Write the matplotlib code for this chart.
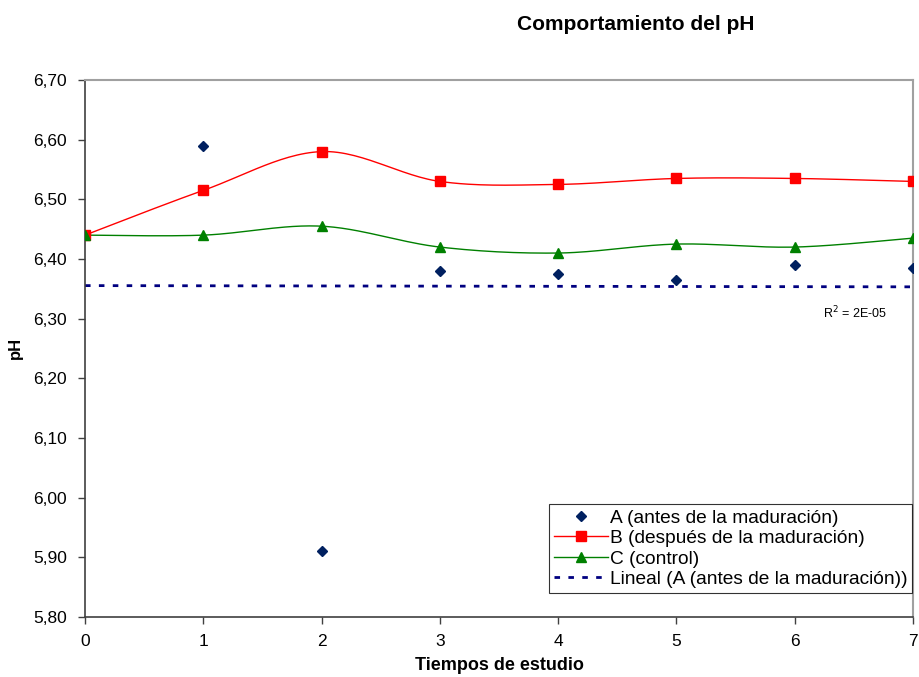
import numpy as np
import matplotlib.pyplot as plt

plt.rcParams['font.family'] = ['Liberation Sans', 'DejaVu Sans']

tiempos = [0, 1, 2, 3, 4, 5, 6, 7]
ph_a = [6.44, 6.59, 5.91, 6.38, 6.375, 6.365, 6.39, 6.385]
ph_b = [6.44, 6.515, 6.58, 6.53, 6.525, 6.535, 6.535, 6.53]
ph_c = [6.44, 6.44, 6.455, 6.42, 6.41, 6.425, 6.42, 6.435]
yticks = [5.8, 5.9, 6.0, 6.1, 6.2, 6.3, 6.4, 6.5, 6.6, 6.7]


def smooth(x, y, n=30):
    # cubic bezier through the points, excel-style smoothing
    x = np.asarray(x, float)
    y = np.asarray(y, float)
    px = np.concatenate([[x[0]], x, [x[-1]]])
    py = np.concatenate([[y[0]], y, [y[-1]]])
    xs, ys = [], []
    t = np.linspace(0, 1, n)
    for i in range(len(x) - 1):
        p0 = np.array([px[i + 1], py[i + 1]])
        p3 = np.array([px[i + 2], py[i + 2]])
        c1 = p0 + (np.array([px[i + 2], py[i + 2]]) - np.array([px[i], py[i]])) / 6
        c2 = p3 - (np.array([px[i + 3], py[i + 3]]) - np.array([px[i + 1], py[i + 1]])) / 6
        b = ((1 - t) ** 3)[:, None] * p0 + (3 * (1 - t) ** 2 * t)[:, None] * c1 \
            + (3 * (1 - t) * t ** 2)[:, None] * c2 + (t ** 3)[:, None] * p3
        xs.extend(b[:, 0])
        ys.extend(b[:, 1])
    return np.array(xs), np.array(ys)


fig = plt.figure(figsize=(9.2, 6.77), dpi=100)
ax = fig.add_axes([85 / 920, 60 / 677, 828 / 920, 537 / 677])

navy = '#000080'

bx, by = smooth(tiempos, ph_b)
cx, cy = smooth(tiempos, ph_c)
ax.plot(bx, by, color='#FF0000', lw=1.0, zorder=2)
ax.plot(cx, cy, color='#008000', lw=1.0, zorder=2)

# regresión lineal de la serie A
coef = np.polyfit(tiempos, ph_a, 1)
fit = np.polyval(coef, tiempos)
ax.plot(tiempos, fit, color=navy, lw=2, ls=(0, (2, 3)), zorder=1)

ax.plot(tiempos, ph_a, ls='none', marker='D', ms=5.5, color='#002060', zorder=3)
ax.plot(tiempos, ph_b, ls='none', marker='s', ms=7, color='#FF0000', zorder=3)
ax.plot(tiempos, ph_c, ls='none', marker='^', ms=7, color='#008000', zorder=4)

# legend proxies
hA, = ax.plot([], [], ls='none', marker='D', ms=5, color='#002060')
hB, = ax.plot([], [], color='#FF0000', lw=1.0, marker='s', ms=7)
hC, = ax.plot([], [], color='#008000', lw=1.0, marker='^', ms=7)
hL, = ax.plot([], [], color=navy, lw=2, ls=(0, (2, 3)))
leg = ax.legend([hA, hB, hC, hL],
                ['A (antes de la maduración)', 'B (después de la maduración)',
                 'C (control)', 'Lineal (A (antes de la maduración))'],
                loc='lower right', bbox_to_anchor=(0.999, 0.045), fontsize=13.8,
                frameon=True, fancybox=False, edgecolor='black',
                handlelength=2.8, handletextpad=0.1, borderpad=0.25,
                labelspacing=0.16, borderaxespad=0)
leg.get_frame().set_linewidth(0.8)

ax.text(6.51, 6.309, 'R$^2$ = 2E-05', fontsize=9, ha='center', va='center')

ax.set_xlim(0, 7)
ax.set_ylim(5.8, 6.7)
ax.set_xticks(tiempos)
ax.set_yticks(yticks)
ax.set_yticklabels([('%.2f' % v).replace('.', ',') for v in yticks], fontsize=12.5)
ax.set_xticklabels([str(t) for t in tiempos], fontsize=12.5)
ax.tick_params(direction='out', length=5, width=1, color='#404040')
ax.tick_params(axis='y', pad=8)
ax.tick_params(axis='x', pad=7)

for s in ['top', 'right']:
    ax.spines[s].set_color('#a0a0a0')
    ax.spines[s].set_linewidth(1.5)
for s in ['left', 'bottom']:
    ax.spines[s].set_color('#404040')
    ax.spines[s].set_linewidth(1.2)

ax.set_xlabel('Tiempos de estudio', fontsize=13, fontweight='bold')
ax.xaxis.set_label_coords((499 - 85) / 828, -(665 - 617) / 537)
ax.xaxis.label.set_va('center')
ax.set_ylabel('pH', fontsize=12, fontweight='bold')
ax.yaxis.set_label_coords(-(85 - 15) / 828, (617 - 348) / 537)
ax.yaxis.label.set_va('center')
fig.text(636 / 920, 1 - 24 / 677, 'Comportamiento del pH', fontsize=15,
         fontweight='bold', ha='center', va='center')

fig.savefig('out.png', dpi=100)
